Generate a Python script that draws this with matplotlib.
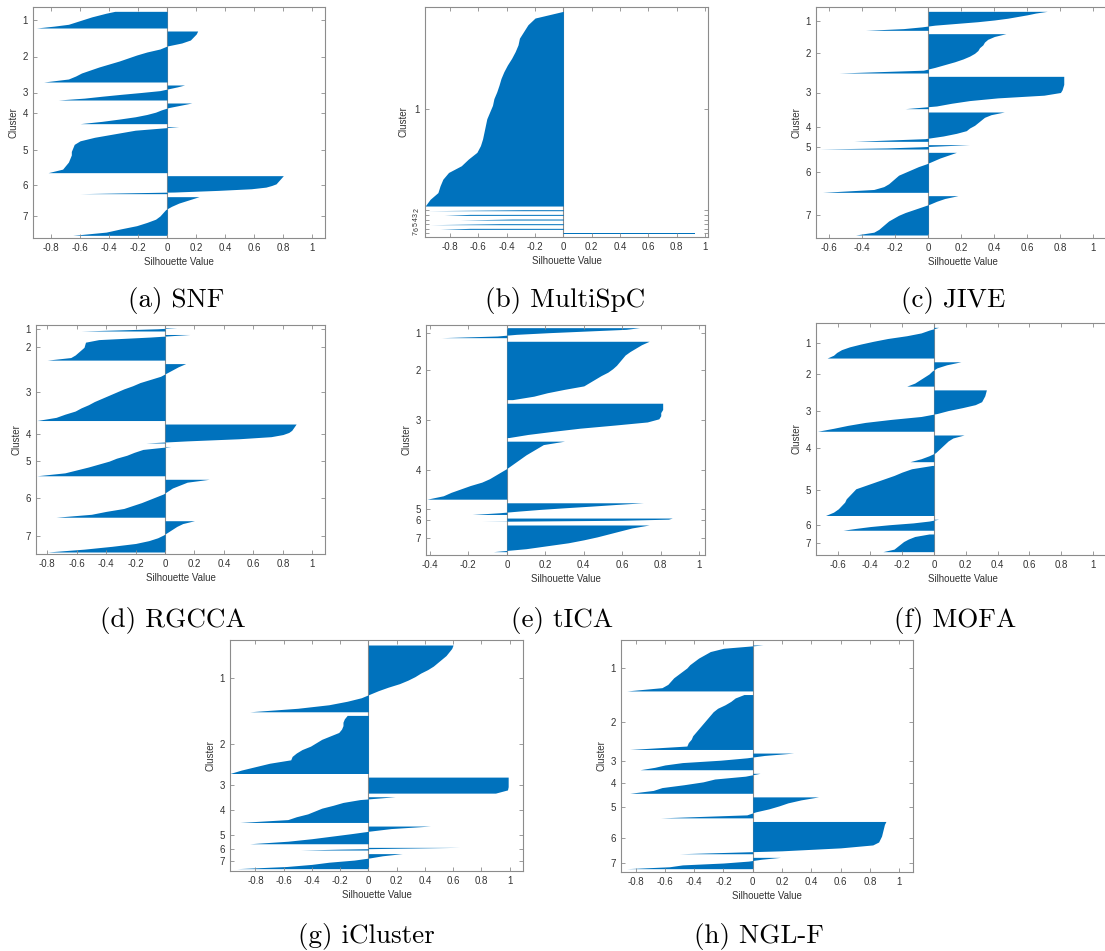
import matplotlib.pyplot as plt
import numpy as np

plt.rcParams['font.family'] = ['Liberation Sans', 'DejaVu Sans']
plt.rcParams['axes.unicode_minus'] = False

BLUE = '#0072BD'
GREY = '#8c8c8c'

# silhouette values of each cluster, read top -> bottom (sorted inside cluster)
# sizes = number of samples of each cluster
snf_sizes = [50, 153, 45, 62, 138, 54, 116]
snf_vals = [
    [-0.36, -0.42, -0.47, -0.52, -0.56, -0.60, -0.64, -0.68, -0.78, -0.90],
    [0.21, 0.20, 0.18, 0.16, 0.10, 0.00, -0.05, -0.14, -0.21, -0.27, -0.33, -0.40, -0.47, -0.53, -0.59, -0.63, -0.68, -0.85],
    [0.12, 0.07, 0.01, -0.05, -0.18, -0.32, -0.45, -0.57, -0.75],
    [0.17, 0.09, 0.01, -0.04, -0.08, -0.14, -0.22, -0.33, -0.45, -0.60],
    [0.08, -0.22, -0.36, -0.50, -0.60, -0.64, -0.65, -0.66, -0.66, -0.67, -0.68, -0.70, -0.72, -0.82],
    [0.80, 0.79, 0.78, 0.77, 0.76, 0.75, 0.72, 0.68, 0.58, 0.35, 0.05, -0.60],
    [0.22, 0.15, 0.08, 0.03, -0.01, -0.03, -0.05, -0.08, -0.14, -0.21, -0.32, -0.42, -0.65],
]

multispc_sizes = [585, 3, 3, 3, 3, 3, 2]
multispc_vals = [
    [-0.0, -0.20, -0.25, -0.28, -0.31, -0.32, -0.34, -0.365, -0.395, -0.42, -0.44, -0.454, -0.47, -0.49, -0.50,
     -0.52, -0.54, -0.55, -0.56, -0.57, -0.585, -0.61, -0.67, -0.72, -0.81, -0.85, -0.87, -0.885, -0.94, -0.975],
    [-0.28, -0.96],
    [-0.66, -0.84],
    [-0.36, -0.73],
    [-0.45, -0.94],
    [-0.66, -0.87],
    [0.93, 0.93],
]

jive_sizes = [57, 118, 97, 88, 13, 120, 118]
jive_vals = [
    [0.72, 0.65, 0.60, 0.54, 0.48, 0.40, 0.30, 0.17, 0.04, -0.04, -0.15, -0.38],
    [0.47, 0.40, 0.36, 0.34, 0.33, 0.31, 0.30, 0.28, 0.25, 0.21, 0.16, 0.10, 0.04, -0.03, -0.54],
    [0.82, 0.82, 0.82, 0.82, 0.815, 0.81, 0.80, 0.70, 0.42, 0.25, 0.14, 0.05, -0.14],
    [0.46, 0.38, 0.34, 0.32, 0.30, 0.28, 0.25, 0.23, 0.17, 0.09, -0.02, -0.45],
    [0.25, 0.10, -0.05, -0.25, -0.66],
    [0.17, 0.12, 0.07, 0.03, -0.01, -0.06, -0.10, -0.14, -0.18, -0.20, -0.22, -0.24, -0.27, -0.33, -0.64],
    [0.18, 0.10, 0.05, 0.01, -0.04, -0.09, -0.14, -0.18, -0.21, -0.24, -0.26, -0.28, -0.30, -0.33, -0.44],
]

rgcca_sizes = [10, 77, 171, 57, 88, 114, 94]
rgcca_vals = [
    [0.08, -0.05, -0.30, -0.57],
    [0.17, -0.10, -0.45, -0.54, -0.545, -0.55, -0.57, -0.59, -0.61, -0.64, -0.80],
    [0.14, 0.09, 0.05, 0.01, -0.03, -0.10, -0.17, -0.22, -0.28, -0.33, -0.38, -0.43, -0.48, -0.52, -0.57, -0.61, -0.68, -0.74, -0.87],
    [0.89, 0.88, 0.87, 0.86, 0.84, 0.80, 0.72, 0.50, 0.15, -0.13],
    [0.04, -0.15, -0.21, -0.26, -0.33, -0.38, -0.45, -0.52, -0.60, -0.68, -0.87],
    [0.30, 0.15, 0.10, 0.05, 0.02, -0.01, -0.06, -0.11, -0.16, -0.22, -0.28, -0.40, -0.50, -0.74],
    [0.20, 0.12, 0.08, 0.05, 0.02, -0.01, -0.05, -0.11, -0.20, -0.36, -0.55, -0.80],
]

tica_sizes = [30, 175, 103, 174, 35, 10, 80]
tica_vals = [
    [0.69, 0.62, 0.42, 0.22, 0.05, -0.05, -0.34],
    [0.74, 0.70, 0.67, 0.64, 0.615, 0.60, 0.585, 0.57, 0.55, 0.525, 0.49, 0.46, 0.43, 0.40, 0.30, 0.21, 0.14, 0.03],
    [0.81, 0.81, 0.81, 0.80, 0.80, 0.79, 0.73, 0.56, 0.38, 0.24, 0.11, 0.01],
    [0.30, 0.19, 0.16, 0.13, 0.10, 0.075, 0.05, 0.025, 0.0, -0.03, -0.06, -0.09, -0.13, -0.19, -0.24, -0.29, -0.33, -0.415],
    [0.71, 0.57, 0.44, 0.30, 0.17, 0.06, -0.04, -0.18],
    [0.86, 0.84, 0.60, -0.13],
    [0.74, 0.65, 0.59, 0.53, 0.47, 0.40, 0.32, 0.21, 0.10, -0.07],
]

mofa_sizes = [92, 73, 124, 80, 150, 33, 53]
mofa_vals = [
    [0.03, -0.03, -0.08, -0.17, -0.29, -0.38, -0.46, -0.53, -0.58, -0.61, -0.63, -0.67],
    [0.17, 0.08, 0.02, -0.01, -0.03, -0.06, -0.09, -0.12, -0.17],
    [0.33, 0.325, 0.32, 0.31, 0.30, 0.26, 0.18, 0.09, 0.02, -0.08, -0.27, -0.43, -0.54, -0.63, -0.73],
    [0.19, 0.12, 0.09, 0.07, 0.05, 0.03, 0.01, -0.03, -0.08, -0.15],
    [-0.01, -0.14, -0.20, -0.25, -0.31, -0.37, -0.43, -0.49, -0.51, -0.53, -0.55, -0.56, -0.58, -0.60, -0.63, -0.68],
    [0.03, -0.03, -0.13, -0.28, -0.40, -0.49, -0.57],
    [-0.03, -0.12, -0.16, -0.19, -0.21, -0.23, -0.25, -0.32],
]

icluster_sizes = [200, 174, 48, 77, 53, 8, 45]
icluster_vals = [
    [0.60, 0.59, 0.57, 0.55, 0.52, 0.49, 0.46, 0.42, 0.37, 0.33, 0.28, 0.22, 0.14, 0.07, 0.01, -0.05, -0.15, -0.28, -0.50, -0.84],
    [-0.15, -0.17, -0.18, -0.18, -0.19, -0.21, -0.27, -0.33, -0.37, -0.41, -0.47, -0.51, -0.54, -0.55, -0.70, -0.80, -0.90, -0.98],
    [0.99, 0.99, 0.99, 0.99, 0.985, 0.90],
    [0.19, -0.06, -0.18, -0.25, -0.33, -0.38, -0.43, -0.51, -0.57, -0.91],
    [0.44, 0.16, 0.01, -0.12, -0.26, -0.40, -0.57, -0.84],
    [0.65, 0.20, -0.20, -0.48],
    [0.24, 0.10, 0.01, -0.10, -0.28, -0.40, -0.58, -0.93],
]

nglf_sizes = [138, 165, 50, 60, 63, 97, 34]
nglf_vals = [
    [0.07, -0.20, -0.29, -0.33, -0.37, -0.40, -0.43, -0.45, -0.48, -0.51, -0.54, -0.56, -0.58, -0.62, -0.86],
    [-0.06, -0.12, -0.15, -0.19, -0.24, -0.27, -0.29, -0.31, -0.33, -0.35, -0.37, -0.39, -0.41, -0.42, -0.44, -0.45, -0.84],
    [0.28, 0.08, -0.04, -0.22, -0.48, -0.60, -0.67, -0.77],
    [0.05, -0.05, -0.26, -0.34, -0.47, -0.62, -0.68, -0.84],
    [0.45, 0.33, 0.24, 0.18, 0.11, 0.02, -0.04, -0.63],
    [0.91, 0.90, 0.895, 0.89, 0.885, 0.88, 0.87, 0.86, 0.82, 0.60, 0.20, -0.50],
    [0.19, 0.06, -0.03, -0.20, -0.48, -0.57, -0.86],
]

cluster_labels = ['1', '2', '3', '4', '5', '6', '7']
ticks_08 = [-0.8, -0.6, -0.4, -0.2, 0, 0.2, 0.4, 0.6, 0.8, 1]
ticks_06 = [-0.6, -0.4, -0.2, 0, 0.2, 0.4, 0.6, 0.8, 1]
ticks_04 = [-0.4, -0.2, 0, 0.2, 0.4, 0.6, 0.8, 1]
captions = ['(a) SNF', '(b) MultiSpC', '(c) JIVE', '(d) RGCCA', '(e) tICA', '(f) MOFA', '(g) iCluster', '(h) NGL-F']

W, H = 1105, 951
fig = plt.figure(figsize=(W / 100, H / 100), dpi=100)


def silhouette(box, sizes, vals, xlim, xticks, gap, pad):
    l, t, r, b = box
    ax = fig.add_axes([l / W, 1 - b / H, (r - l) / W, (b - t) / H])
    y = pad[0]
    centers = []
    for n, v in zip(sizes, vals):
        # readings spread from the top edge to the bottom edge of the cluster
        pos = y + n * np.linspace(0, 1, len(v))
        ax.fill_betweenx(pos, 0, v, color=BLUE, linewidth=0)
        centers.append(y + n / 2)
        y += n + gap
    ax.set_ylim(y - gap + pad[1], 0)
    ax.set_xlim(*xlim)
    ax.axvline(0, color=GREY, lw=0.8, zorder=0.5)
    ax.set_xticks(xticks)
    ax.set_xticklabels(['%g' % v for v in xticks])
    ax.set_yticks(centers)
    ax.set_yticklabels(cluster_labels)
    ax.tick_params(direction='in', length=3, width=0.6, color=GREY, labelsize=7,
                   labelcolor='#333333', top=True, right=True)
    for s in ax.spines.values():
        s.set_color(GREY)
        s.set_linewidth(0.8)
    ax.set_xlabel('Silhouette Value', fontsize=7, color='#333333', labelpad=3)
    ax.set_ylabel('Cluster', fontsize=7, color='#333333', labelpad=3)
    return ax


silhouette((33, 7, 325, 238), snf_sizes, snf_vals, (-0.924, 1.087), ticks_08, 9, (13, 8))
axb = silhouette((425, 7, 708, 237), multispc_sizes, multispc_vals, (-0.976, 1.02), ticks_08, 11, (13, 10))
for lab in axb.get_yticklabels()[1:]:
    lab.set_rotation(90)
    lab.set_fontsize(5)
    lab.set_va('center')
silhouette((816, 7, 1110, 238), jive_sizes, jive_vals, (-0.68, 1.1), ticks_06, 10, (13, 9))
silhouette((36, 325, 325, 554), rgcca_sizes, rgcca_vals, (-0.876, 1.086), ticks_08, 10.5, (8, 6))
silhouette((426, 325, 705, 555), tica_sizes, tica_vals, (-0.42, 1.03), ticks_04, 10.8, (8, 10))
silhouette((816, 323, 1109, 555), mofa_sizes, mofa_vals, (-0.74, 1.1), ticks_06, 11.2, (13, 10))
silhouette((230, 640, 523, 871), icluster_sizes, icluster_vals, (-0.98, 1.095), ticks_08, 10.8, (15, 7))
silhouette((621, 640, 913, 872), nglf_sizes, nglf_vals, (-0.90, 1.095), ticks_08, 10.8, (15, 10))

cap_xy = [(176, 301), (565, 301), (953, 301), (173, 620), (562, 620), (955, 620), (366, 937), (759, 937)]
for (cx, cy), txt in zip(cap_xy, captions):
    fig.text(cx / W, 1 - cy / H, txt, family='cmr10', fontsize=19.5, ha='center', va='center')

fig.savefig('out.png', dpi=100)
